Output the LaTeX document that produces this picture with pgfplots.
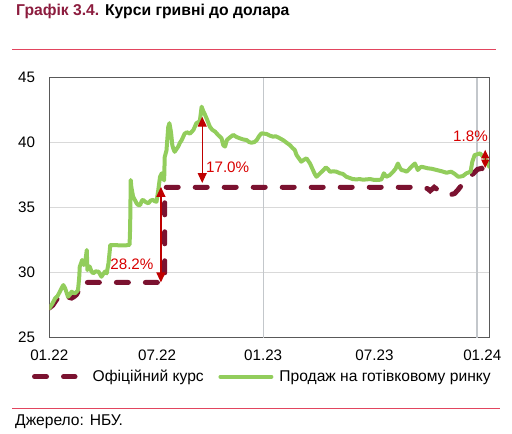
\documentclass[border=0pt]{standalone}
\usepackage{pgfplots}
\pgfplotsset{compat=1.18}
\usepackage{fontspec}
\setmainfont{Liberation Sans}
\usetikzlibrary{arrows.meta}
\definecolor{titlered}{HTML}{8C1C3E}
\definecolor{rulered}{HTML}{E2455F}
\definecolor{official}{HTML}{7B1230}
\definecolor{cash}{HTML}{92CD5C}
\definecolor{arrowred}{HTML}{C00000}
\definecolor{labelred}{HTML}{D80000}
\definecolor{gridh}{HTML}{D9D9D9}
\definecolor{gridv}{HTML}{C3C7CB}
\definecolor{axisgray}{HTML}{595959}
\newcommand{\fs}{\fontsize{15.2bp}{18bp}\selectfont}
\newcommand{\ft}{\fontsize{15.6bp}{18bp}\selectfont}
\begin{document}
\begin{tikzpicture}
\useasboundingbox (0,0) rectangle (512bp,-434bp);
\begin{axis}[
  at={(49.3bp,-337.7bp)}, anchor=south west,
  scale only axis, width=440bp, height=260bp,
  xmin=0, xmax=751, ymin=25, ymax=45,
  xtick={0,184,365,555,739},
  xticklabels={01.22,07.22,01.23,07.23,01.24},
  extra x ticks={365,730}, extra x tick labels={},
  extra x tick style={xmajorgrids=true, major grid style={draw=gridv, line width=1.2bp}},
  ytick={25,30,35,40,45},
  ymajorgrids, major grid style={draw=gridh, line width=1bp},
  major tick length=0pt,
  axis line style={draw=axisgray, line width=1.3bp},
  tick label style={font=\fs, inner sep=0pt},
  /pgf/number format/assume math mode=true,
  yticklabel style={xshift=-14bp},
  xticklabel style={yshift=-12bp},
  legend columns=2,
  legend style={at={(-0.0393,-0.15)}, anchor=west, draw=none, fill=none,
    inner sep=0pt, outer sep=0pt, font=\ft,
    nodes={inner sep=0pt},
    /tikz/every even column/.append style={column sep=14.7bp}},
]
\addplot[official, line width=5bp, line cap=round, dash pattern=on 12bp off 17bp,
  legend image code/.code={\draw[official, line width=5bp, line cap=round, dash pattern=on 12bp off 17bp] (2.5bp,0bp) -- (43bp,0bp); \path[draw=none, fill=none] (0bp,-4bp) rectangle (60.7bp,4bp);}]
  coordinates {
(0,27.28) (6,27.5) (12,27.9) (18,28.3) (22,28.45) (26,28.5) (30,28.25) (34,28.1)
(38,28.05) (42,28.15) (46,28.3) (50,28.6) (53,29.25) (197,29.25) (197,36.57)
(640,36.57) (646,36.45) (650,36.3) (657,36.57) (666,36.28) (675,36.1) (684,35.98)
(692,36.1) (698,36.4) (705,36.8) (710,37.05) (716,37.3) (724,37.65) (731,37.95)
(738,38.03) (746,37.77) (751,37.5)
};
\addlegendentry{Офіційний курс}
\addplot[cash, line width=4bp, line cap=round, line join=round,
  legend image code/.code={\draw[cash, line width=4bp, line cap=round] (2bp,0bp) -- (53bp,0bp); \path[draw=none, fill=none] (0bp,-4bp) rectangle (61bp,4bp);}]
  coordinates {
(0,27.26) (5,27.6) (10,28.03) (14,28.2) (18,28.54) (22,28.9) (24,29.05) (27,28.8)
(30,28.4) (32,28.15) (35,28.3) (38,28.54) (41,28.45) (44,28.42) (47,28.55) (49,28.67)
(51,29.6) (52,30.46) (54,30.7) (56,30.98) (59,30.6) (61,30.72) (63,31.4) (64,31.75)
(65,30.2) (67,30.5) (69,30.46) (72,30.1) (75,29.95) (79,30.1) (84,30.08) (87,29.85)
(89,29.69) (92,29.9) (95,30.08) (98,29.95) (101,30.72) (103,31.6) (104,32.13)
(112,32.13) (120,32.1) (130,32.1) (137,32.15) (138,33.5) (139,37.13) (140,36.6)
(143,35.85) (146,35.6) (149,35.34) (152,35.2) (155,35.2) (158,35.55) (160,35.6)
(164,35.45) (169,35.34) (173,35.55) (177,35.6) (180,35.5) (183,35.46) (186,36.36)
(189,37.38) (192,37.65) (194,37.3) (196,37.1) (197,38.9) (200,39.4) (203,41.2)
(205,41.5) (207,41.0) (208,40.7) (210,39.8) (212,39.5) (214,39.3) (217,39.5)
(220,39.7) (223,40.0) (226,40.2) (231,40.7) (235,40.8) (240,40.7) (246,40.98)
(251,41.5) (255,41.6) (257,41.7) (260,42.77) (263,42.4) (266,42.13) (270,41.7)
(274,41.23) (278,41.0) (283,40.85) (288,40.6) (294,40.34) (297,39.8) (300,39.7)
(303,40.2) (308,40.4) (314,40.6) (319,40.45) (325,40.34) (331,40.25) (337,40.2)
(341,40.05) (345,40.0) (350,40.05) (354,40.2) (358,40.5) (362,40.72) (366,40.7)
(371,40.67) (376,40.55) (382,40.46) (386,40.5) (391,40.4) (395,40.3) (399,40.2)
(405,40.0) (411,39.8) (415,39.6) (419,39.44) (422,39.05) (426,38.8) (430,38.54)
(435,38.7) (439,38.8) (442,38.6) (445,38.4) (448,38.1) (450,37.9) (453,37.6)
(456,37.38) (460,37.55) (465,37.77) (468,37.9) (472,38.1) (476,37.95) (479,37.77)
(485,37.8) (490,37.77) (496,37.65) (501,37.6) (507,37.38) (512,37.3) (518,37.2)
(524,37.18) (530,37.2) (536,37.15) (541,37.18) (548,37.2) (553,37.15) (558,37.13)
(564,37.15) (567,37.18) (571,37.65) (575,37.38) (581,37.5) (587,37.77) (591,38.0)
(595,38.4) (598,38.1) (601,37.9) (606,37.85) (610,37.77) (614,37.95) (618,38.15)
(624,38.4) (627,38.1) (629,37.9) (632,38.05) (635,38.15) (640,38.1) (646,38.03)
(652,38.0) (661,37.9) (670,37.8) (678,37.69) (686,37.77) (692,37.6) (698,37.38)
(702,37.4) (706,37.44) (712,37.65) (719,37.77) (722,38.54) (726,39.05) (730,39.1)
(735,39.18) (739,39.0) (743,38.92) (747,38.5) (751,38.15)
};
\addlegendentry{Продаж на готівковому ринку}
\draw[arrowred, line width=1.2bp, {Triangle[width=9bp,length=10bp]}-{Triangle[width=9bp,length=10bp]}]
  (axis cs:190.5,29.25) -- (axis cs:190.5,36.6);
\draw[arrowred, line width=1.2bp, {Triangle[width=9bp,length=10bp]}-{Triangle[width=9bp,length=10bp]}]
  (axis cs:261,36.9) -- (axis cs:261,42.0);
\draw[arrowred, line width=1.2bp, {Triangle[width=8bp,length=8.5bp]}-{Triangle[width=8bp,length=8.5bp]}]
  (axis cs:744,38.05) -- (axis cs:744,39.45);
\node[text=labelred, font=\fs, inner sep=0pt] at (axis cs:141,30.66) {28.2\%};
\node[text=labelred, font=\fs, inner sep=0pt, anchor=west] at (axis cs:267.3,38.1) {17.0\%};
\node[text=labelred, font=\fs, inner sep=0pt] at (axis cs:719,40.5) {1.8\%};
\end{axis}
\node[anchor=west, inner sep=0pt, font=\fontsize{15.7bp}{18bp}\selectfont\bfseries] at (16bp,-11.5bp)
  {\textcolor{titlered}{Графік 3.4.} Курси гривні до долара};
\draw[rulered, line width=1.2bp] (12bp,-49.3bp) -- (496bp,-49.3bp);
\draw[rulered, line width=1.2bp] (12bp,-408.3bp) -- (500bp,-408.3bp);
\node[anchor=west, inner sep=0pt, font=\ft] at (15bp,-421.7bp) {Джерело: НБУ.};
\end{tikzpicture}
\end{document}
